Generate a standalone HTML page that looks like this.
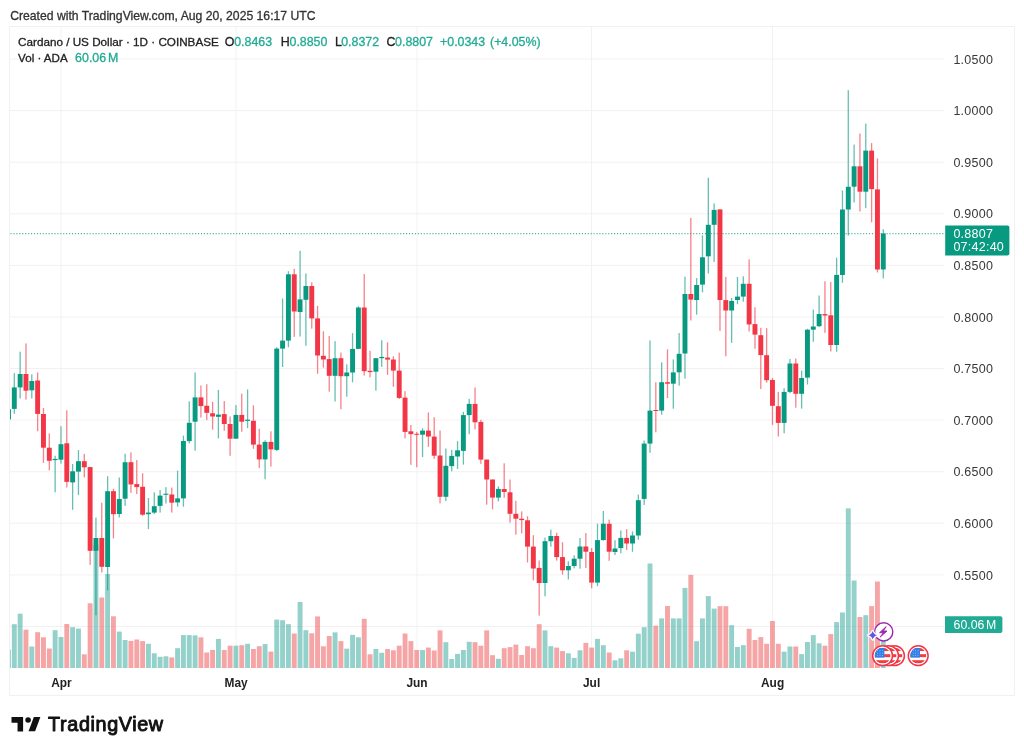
<!DOCTYPE html><html><head><meta charset="utf-8"><title>ADA</title><style>
html,body{margin:0;padding:0;background:#fff;}body{width:1024px;height:754px;overflow:hidden;position:relative;font-family:"Liberation Sans",sans-serif;}
svg{position:absolute;left:0;top:0;will-change:transform;} text.n{stroke-width:0.3px;}
</style></head><body>
<svg width="1024" height="754" viewBox="0 0 1024 754" font-family="Liberation Sans, sans-serif">
<defs><clipPath id="pc"><rect x="10.0" y="27.0" width="934.0" height="641.0"/></clipPath></defs>
<rect x="9.5" y="26.5" width="1005.0" height="669.0" fill="none" stroke="#f1f1f1" stroke-width="1"/>
<line x1="10" y1="59.0" x2="944.0" y2="59.0" stroke="#f4f0f2" stroke-width="1"/>
<line x1="10" y1="110.6" x2="944.0" y2="110.6" stroke="#f4f0f2" stroke-width="1"/>
<line x1="10" y1="162.2" x2="944.0" y2="162.2" stroke="#f4f0f2" stroke-width="1"/>
<line x1="10" y1="213.8" x2="944.0" y2="213.8" stroke="#f4f0f2" stroke-width="1"/>
<line x1="10" y1="265.4" x2="944.0" y2="265.4" stroke="#f4f0f2" stroke-width="1"/>
<line x1="10" y1="317.0" x2="944.0" y2="317.0" stroke="#f4f0f2" stroke-width="1"/>
<line x1="10" y1="368.5" x2="944.0" y2="368.5" stroke="#f4f0f2" stroke-width="1"/>
<line x1="10" y1="420.1" x2="944.0" y2="420.1" stroke="#f4f0f2" stroke-width="1"/>
<line x1="10" y1="471.7" x2="944.0" y2="471.7" stroke="#f4f0f2" stroke-width="1"/>
<line x1="10" y1="523.3" x2="944.0" y2="523.3" stroke="#f4f0f2" stroke-width="1"/>
<line x1="10" y1="574.9" x2="944.0" y2="574.9" stroke="#f4f0f2" stroke-width="1"/>
<line x1="10" y1="626.5" x2="944.0" y2="626.5" stroke="#f4f0f2" stroke-width="1"/>
<line x1="61.0" y1="27" x2="61.0" y2="668.0" stroke="#f4f0f2" stroke-width="1"/>
<line x1="236.1" y1="27" x2="236.1" y2="668.0" stroke="#f4f0f2" stroke-width="1"/>
<line x1="417.0" y1="27" x2="417.0" y2="668.0" stroke="#f4f0f2" stroke-width="1"/>
<line x1="591.6" y1="27" x2="591.6" y2="668.0" stroke="#f4f0f2" stroke-width="1"/>
<line x1="772.6" y1="27" x2="772.6" y2="668.0" stroke="#f4f0f2" stroke-width="1"/>
<g clip-path="url(#pc)">
<rect x="6.02" y="649.6" width="4.9" height="18.4" fill="rgba(39,163,149,0.5)"/>
<rect x="11.85" y="624.2" width="4.9" height="43.8" fill="rgba(39,163,149,0.5)"/>
<rect x="17.69" y="613.7" width="4.9" height="54.3" fill="rgba(39,163,149,0.5)"/>
<rect x="23.52" y="629.7" width="4.9" height="38.3" fill="rgba(235,75,77,0.5)"/>
<rect x="29.35" y="646.5" width="4.9" height="21.5" fill="rgba(39,163,149,0.5)"/>
<rect x="35.18" y="632.2" width="4.9" height="35.8" fill="rgba(235,75,77,0.5)"/>
<rect x="41.01" y="637.3" width="4.9" height="30.7" fill="rgba(235,75,77,0.5)"/>
<rect x="46.85" y="648.5" width="4.9" height="19.5" fill="rgba(235,75,77,0.5)"/>
<rect x="52.68" y="630.2" width="4.9" height="37.8" fill="rgba(39,163,149,0.5)"/>
<rect x="58.51" y="637.0" width="4.9" height="31.0" fill="rgba(39,163,149,0.5)"/>
<rect x="64.34" y="624.0" width="4.9" height="44.0" fill="rgba(235,75,77,0.5)"/>
<rect x="70.17" y="627.2" width="4.9" height="40.8" fill="rgba(39,163,149,0.5)"/>
<rect x="76.01" y="628.6" width="4.9" height="39.4" fill="rgba(39,163,149,0.5)"/>
<rect x="81.84" y="654.3" width="4.9" height="13.7" fill="rgba(235,75,77,0.5)"/>
<rect x="87.67" y="603.3" width="4.9" height="64.7" fill="rgba(235,75,77,0.5)"/>
<rect x="93.50" y="545.0" width="4.9" height="123.0" fill="rgba(39,163,149,0.5)"/>
<rect x="99.33" y="597.5" width="4.9" height="70.5" fill="rgba(235,75,77,0.5)"/>
<rect x="105.17" y="574.0" width="4.9" height="94.0" fill="rgba(39,163,149,0.5)"/>
<rect x="111.00" y="616.3" width="4.9" height="51.7" fill="rgba(235,75,77,0.5)"/>
<rect x="116.83" y="631.6" width="4.9" height="36.4" fill="rgba(39,163,149,0.5)"/>
<rect x="122.66" y="640.0" width="4.9" height="28.0" fill="rgba(39,163,149,0.5)"/>
<rect x="128.49" y="640.9" width="4.9" height="27.1" fill="rgba(235,75,77,0.5)"/>
<rect x="134.33" y="639.5" width="4.9" height="28.5" fill="rgba(235,75,77,0.5)"/>
<rect x="140.16" y="641.1" width="4.9" height="26.9" fill="rgba(235,75,77,0.5)"/>
<rect x="145.99" y="643.8" width="4.9" height="24.2" fill="rgba(39,163,149,0.5)"/>
<rect x="151.82" y="653.3" width="4.9" height="14.7" fill="rgba(39,163,149,0.5)"/>
<rect x="157.65" y="656.8" width="4.9" height="11.2" fill="rgba(39,163,149,0.5)"/>
<rect x="163.49" y="656.3" width="4.9" height="11.7" fill="rgba(39,163,149,0.5)"/>
<rect x="169.32" y="657.4" width="4.9" height="10.6" fill="rgba(235,75,77,0.5)"/>
<rect x="175.15" y="648.2" width="4.9" height="19.8" fill="rgba(39,163,149,0.5)"/>
<rect x="180.98" y="635.1" width="4.9" height="32.9" fill="rgba(39,163,149,0.5)"/>
<rect x="186.81" y="635.1" width="4.9" height="32.9" fill="rgba(39,163,149,0.5)"/>
<rect x="192.65" y="635.4" width="4.9" height="32.6" fill="rgba(39,163,149,0.5)"/>
<rect x="198.48" y="637.3" width="4.9" height="30.7" fill="rgba(235,75,77,0.5)"/>
<rect x="204.31" y="652.5" width="4.9" height="15.5" fill="rgba(235,75,77,0.5)"/>
<rect x="210.14" y="650.0" width="4.9" height="18.0" fill="rgba(235,75,77,0.5)"/>
<rect x="215.97" y="638.9" width="4.9" height="29.1" fill="rgba(39,163,149,0.5)"/>
<rect x="221.81" y="650.0" width="4.9" height="18.0" fill="rgba(235,75,77,0.5)"/>
<rect x="227.64" y="645.7" width="4.9" height="22.3" fill="rgba(235,75,77,0.5)"/>
<rect x="233.47" y="645.7" width="4.9" height="22.3" fill="rgba(39,163,149,0.5)"/>
<rect x="239.30" y="645.2" width="4.9" height="22.8" fill="rgba(235,75,77,0.5)"/>
<rect x="245.13" y="643.8" width="4.9" height="24.2" fill="rgba(39,163,149,0.5)"/>
<rect x="250.97" y="649.0" width="4.9" height="19.0" fill="rgba(235,75,77,0.5)"/>
<rect x="256.80" y="646.2" width="4.9" height="21.8" fill="rgba(235,75,77,0.5)"/>
<rect x="262.63" y="644.1" width="4.9" height="23.9" fill="rgba(39,163,149,0.5)"/>
<rect x="268.46" y="651.6" width="4.9" height="16.4" fill="rgba(235,75,77,0.5)"/>
<rect x="274.29" y="619.6" width="4.9" height="48.4" fill="rgba(39,163,149,0.5)"/>
<rect x="280.13" y="620.2" width="4.9" height="47.8" fill="rgba(39,163,149,0.5)"/>
<rect x="285.96" y="624.2" width="4.9" height="43.8" fill="rgba(39,163,149,0.5)"/>
<rect x="291.79" y="633.5" width="4.9" height="34.5" fill="rgba(235,75,77,0.5)"/>
<rect x="297.62" y="602.0" width="4.9" height="66.0" fill="rgba(39,163,149,0.5)"/>
<rect x="303.45" y="630.2" width="4.9" height="37.8" fill="rgba(39,163,149,0.5)"/>
<rect x="309.29" y="633.3" width="4.9" height="34.7" fill="rgba(235,75,77,0.5)"/>
<rect x="315.12" y="616.4" width="4.9" height="51.6" fill="rgba(235,75,77,0.5)"/>
<rect x="320.95" y="646.3" width="4.9" height="21.7" fill="rgba(235,75,77,0.5)"/>
<rect x="326.78" y="636.0" width="4.9" height="32.0" fill="rgba(235,75,77,0.5)"/>
<rect x="332.61" y="632.4" width="4.9" height="35.6" fill="rgba(39,163,149,0.5)"/>
<rect x="338.45" y="641.1" width="4.9" height="26.9" fill="rgba(235,75,77,0.5)"/>
<rect x="344.28" y="648.7" width="4.9" height="19.3" fill="rgba(39,163,149,0.5)"/>
<rect x="350.11" y="634.9" width="4.9" height="33.1" fill="rgba(39,163,149,0.5)"/>
<rect x="355.94" y="637.3" width="4.9" height="30.7" fill="rgba(39,163,149,0.5)"/>
<rect x="361.77" y="618.8" width="4.9" height="49.2" fill="rgba(235,75,77,0.5)"/>
<rect x="367.61" y="654.3" width="4.9" height="13.7" fill="rgba(235,75,77,0.5)"/>
<rect x="373.44" y="649.0" width="4.9" height="19.0" fill="rgba(39,163,149,0.5)"/>
<rect x="379.27" y="652.8" width="4.9" height="15.2" fill="rgba(39,163,149,0.5)"/>
<rect x="385.10" y="649.0" width="4.9" height="19.0" fill="rgba(235,75,77,0.5)"/>
<rect x="390.93" y="650.3" width="4.9" height="17.7" fill="rgba(235,75,77,0.5)"/>
<rect x="396.77" y="645.7" width="4.9" height="22.3" fill="rgba(235,75,77,0.5)"/>
<rect x="402.60" y="633.5" width="4.9" height="34.5" fill="rgba(235,75,77,0.5)"/>
<rect x="408.43" y="641.1" width="4.9" height="26.9" fill="rgba(235,75,77,0.5)"/>
<rect x="414.26" y="650.0" width="4.9" height="18.0" fill="rgba(235,75,77,0.5)"/>
<rect x="420.09" y="650.0" width="4.9" height="18.0" fill="rgba(39,163,149,0.5)"/>
<rect x="425.93" y="647.6" width="4.9" height="20.4" fill="rgba(235,75,77,0.5)"/>
<rect x="431.76" y="650.5" width="4.9" height="17.5" fill="rgba(235,75,77,0.5)"/>
<rect x="437.59" y="630.4" width="4.9" height="37.6" fill="rgba(235,75,77,0.5)"/>
<rect x="443.42" y="642.2" width="4.9" height="25.8" fill="rgba(39,163,149,0.5)"/>
<rect x="449.25" y="659.0" width="4.9" height="9.0" fill="rgba(39,163,149,0.5)"/>
<rect x="455.09" y="653.9" width="4.9" height="14.1" fill="rgba(39,163,149,0.5)"/>
<rect x="460.92" y="650.0" width="4.9" height="18.0" fill="rgba(39,163,149,0.5)"/>
<rect x="466.75" y="641.8" width="4.9" height="26.2" fill="rgba(39,163,149,0.5)"/>
<rect x="472.58" y="642.2" width="4.9" height="25.8" fill="rgba(235,75,77,0.5)"/>
<rect x="478.41" y="645.7" width="4.9" height="22.3" fill="rgba(235,75,77,0.5)"/>
<rect x="484.25" y="630.4" width="4.9" height="37.6" fill="rgba(235,75,77,0.5)"/>
<rect x="490.08" y="655.2" width="4.9" height="12.8" fill="rgba(235,75,77,0.5)"/>
<rect x="495.91" y="658.8" width="4.9" height="9.2" fill="rgba(39,163,149,0.5)"/>
<rect x="501.74" y="648.2" width="4.9" height="19.8" fill="rgba(235,75,77,0.5)"/>
<rect x="507.57" y="647.1" width="4.9" height="20.9" fill="rgba(235,75,77,0.5)"/>
<rect x="513.41" y="644.6" width="4.9" height="23.4" fill="rgba(235,75,77,0.5)"/>
<rect x="519.24" y="655.0" width="4.9" height="13.0" fill="rgba(235,75,77,0.5)"/>
<rect x="525.07" y="646.2" width="4.9" height="21.8" fill="rgba(235,75,77,0.5)"/>
<rect x="530.90" y="648.2" width="4.9" height="19.8" fill="rgba(235,75,77,0.5)"/>
<rect x="536.73" y="624.2" width="4.9" height="43.8" fill="rgba(235,75,77,0.5)"/>
<rect x="542.57" y="630.4" width="4.9" height="37.6" fill="rgba(39,163,149,0.5)"/>
<rect x="548.40" y="646.2" width="4.9" height="21.8" fill="rgba(39,163,149,0.5)"/>
<rect x="554.23" y="647.6" width="4.9" height="20.4" fill="rgba(235,75,77,0.5)"/>
<rect x="560.06" y="651.1" width="4.9" height="16.9" fill="rgba(235,75,77,0.5)"/>
<rect x="565.89" y="653.3" width="4.9" height="14.7" fill="rgba(39,163,149,0.5)"/>
<rect x="571.73" y="657.9" width="4.9" height="10.1" fill="rgba(39,163,149,0.5)"/>
<rect x="577.56" y="650.3" width="4.9" height="17.7" fill="rgba(39,163,149,0.5)"/>
<rect x="583.39" y="642.9" width="4.9" height="25.1" fill="rgba(235,75,77,0.5)"/>
<rect x="589.22" y="647.6" width="4.9" height="20.4" fill="rgba(235,75,77,0.5)"/>
<rect x="595.05" y="638.9" width="4.9" height="29.1" fill="rgba(39,163,149,0.5)"/>
<rect x="600.89" y="645.2" width="4.9" height="22.8" fill="rgba(39,163,149,0.5)"/>
<rect x="606.72" y="652.5" width="4.9" height="15.5" fill="rgba(235,75,77,0.5)"/>
<rect x="612.55" y="660.3" width="4.9" height="7.7" fill="rgba(39,163,149,0.5)"/>
<rect x="618.38" y="658.3" width="4.9" height="9.7" fill="rgba(39,163,149,0.5)"/>
<rect x="624.21" y="650.3" width="4.9" height="17.7" fill="rgba(235,75,77,0.5)"/>
<rect x="630.05" y="651.7" width="4.9" height="16.3" fill="rgba(39,163,149,0.5)"/>
<rect x="635.88" y="633.7" width="4.9" height="34.3" fill="rgba(39,163,149,0.5)"/>
<rect x="641.71" y="627.2" width="4.9" height="40.8" fill="rgba(39,163,149,0.5)"/>
<rect x="647.54" y="563.5" width="4.9" height="104.5" fill="rgba(39,163,149,0.5)"/>
<rect x="653.37" y="625.7" width="4.9" height="42.3" fill="rgba(235,75,77,0.5)"/>
<rect x="659.21" y="618.4" width="4.9" height="49.6" fill="rgba(39,163,149,0.5)"/>
<rect x="665.04" y="606.0" width="4.9" height="62.0" fill="rgba(235,75,77,0.5)"/>
<rect x="670.87" y="618.4" width="4.9" height="49.6" fill="rgba(39,163,149,0.5)"/>
<rect x="676.70" y="618.4" width="4.9" height="49.6" fill="rgba(39,163,149,0.5)"/>
<rect x="682.53" y="587.9" width="4.9" height="80.1" fill="rgba(39,163,149,0.5)"/>
<rect x="688.37" y="574.9" width="4.9" height="93.1" fill="rgba(235,75,77,0.5)"/>
<rect x="694.20" y="641.2" width="4.9" height="26.8" fill="rgba(39,163,149,0.5)"/>
<rect x="700.03" y="618.4" width="4.9" height="49.6" fill="rgba(39,163,149,0.5)"/>
<rect x="705.86" y="596.1" width="4.9" height="71.9" fill="rgba(39,163,149,0.5)"/>
<rect x="711.69" y="608.6" width="4.9" height="59.4" fill="rgba(39,163,149,0.5)"/>
<rect x="717.53" y="606.2" width="4.9" height="61.8" fill="rgba(235,75,77,0.5)"/>
<rect x="723.36" y="606.2" width="4.9" height="61.8" fill="rgba(235,75,77,0.5)"/>
<rect x="729.19" y="625.2" width="4.9" height="42.8" fill="rgba(39,163,149,0.5)"/>
<rect x="735.02" y="647.0" width="4.9" height="21.0" fill="rgba(39,163,149,0.5)"/>
<rect x="740.85" y="645.2" width="4.9" height="22.8" fill="rgba(39,163,149,0.5)"/>
<rect x="746.69" y="628.8" width="4.9" height="39.2" fill="rgba(235,75,77,0.5)"/>
<rect x="752.52" y="640.0" width="4.9" height="28.0" fill="rgba(235,75,77,0.5)"/>
<rect x="758.35" y="637.1" width="4.9" height="30.9" fill="rgba(235,75,77,0.5)"/>
<rect x="764.18" y="643.8" width="4.9" height="24.2" fill="rgba(235,75,77,0.5)"/>
<rect x="770.01" y="621.0" width="4.9" height="47.0" fill="rgba(235,75,77,0.5)"/>
<rect x="775.85" y="643.8" width="4.9" height="24.2" fill="rgba(235,75,77,0.5)"/>
<rect x="781.68" y="651.6" width="4.9" height="16.4" fill="rgba(39,163,149,0.5)"/>
<rect x="787.51" y="646.5" width="4.9" height="21.5" fill="rgba(39,163,149,0.5)"/>
<rect x="793.34" y="646.5" width="4.9" height="21.5" fill="rgba(235,75,77,0.5)"/>
<rect x="799.17" y="654.1" width="4.9" height="13.9" fill="rgba(39,163,149,0.5)"/>
<rect x="805.01" y="642.0" width="4.9" height="26.0" fill="rgba(39,163,149,0.5)"/>
<rect x="810.84" y="635.1" width="4.9" height="32.9" fill="rgba(39,163,149,0.5)"/>
<rect x="816.67" y="643.3" width="4.9" height="24.7" fill="rgba(39,163,149,0.5)"/>
<rect x="822.50" y="645.7" width="4.9" height="22.3" fill="rgba(235,75,77,0.5)"/>
<rect x="828.33" y="634.1" width="4.9" height="33.9" fill="rgba(235,75,77,0.5)"/>
<rect x="834.17" y="622.1" width="4.9" height="45.9" fill="rgba(39,163,149,0.5)"/>
<rect x="840.00" y="612.5" width="4.9" height="55.5" fill="rgba(39,163,149,0.5)"/>
<rect x="845.83" y="508.4" width="4.9" height="159.6" fill="rgba(39,163,149,0.5)"/>
<rect x="851.66" y="580.5" width="4.9" height="87.5" fill="rgba(39,163,149,0.5)"/>
<rect x="857.49" y="617.0" width="4.9" height="51.0" fill="rgba(235,75,77,0.5)"/>
<rect x="863.33" y="615.2" width="4.9" height="52.8" fill="rgba(39,163,149,0.5)"/>
<rect x="869.16" y="606.1" width="4.9" height="61.9" fill="rgba(235,75,77,0.5)"/>
<rect x="874.99" y="581.5" width="4.9" height="86.5" fill="rgba(235,75,77,0.5)"/>
<rect x="880.82" y="624.5" width="4.9" height="43.5" fill="rgba(39,163,149,0.5)"/>
<line x1="10.5" y1="233.6" x2="943.5" y2="233.6" stroke="#089981" stroke-opacity="0.75" stroke-width="1.1" stroke-dasharray="1.1 1.83"/>
<rect x="7.82" y="407.0" width="1.3" height="14.0" fill="#089981" fill-opacity="0.62"/>
<rect x="6.02" y="409.3" width="4.9" height="10.2" fill="#089981"/>
<rect x="13.65" y="373.1" width="1.3" height="40.8" fill="#089981" fill-opacity="0.62"/>
<rect x="11.85" y="387.4" width="4.9" height="21.5" fill="#089981"/>
<rect x="19.49" y="351.7" width="1.3" height="46.8" fill="#089981" fill-opacity="0.62"/>
<rect x="17.69" y="374.0" width="4.9" height="13.4" fill="#089981"/>
<rect x="25.32" y="343.4" width="1.3" height="56.2" fill="#f23645" fill-opacity="0.62"/>
<rect x="23.52" y="374.0" width="4.9" height="16.7" fill="#f23645"/>
<rect x="31.15" y="374.4" width="1.3" height="24.1" fill="#089981" fill-opacity="0.62"/>
<rect x="29.35" y="381.0" width="4.9" height="9.3" fill="#089981"/>
<rect x="36.98" y="372.5" width="1.3" height="58.7" fill="#f23645" fill-opacity="0.62"/>
<rect x="35.18" y="380.5" width="4.9" height="33.4" fill="#f23645"/>
<rect x="42.81" y="408.0" width="1.3" height="54.8" fill="#f23645" fill-opacity="0.62"/>
<rect x="41.01" y="414.0" width="4.9" height="33.7" fill="#f23645"/>
<rect x="48.65" y="433.4" width="1.3" height="36.9" fill="#f23645" fill-opacity="0.62"/>
<rect x="46.85" y="447.7" width="4.9" height="13.1" fill="#f23645"/>
<rect x="54.48" y="455.7" width="1.3" height="36.6" fill="#089981" fill-opacity="0.62"/>
<rect x="52.68" y="458.9" width="4.9" height="1.2" fill="#089981"/>
<rect x="60.31" y="426.2" width="1.3" height="37.4" fill="#089981" fill-opacity="0.62"/>
<rect x="58.51" y="444.2" width="4.9" height="15.5" fill="#089981"/>
<rect x="66.14" y="410.3" width="1.3" height="77.2" fill="#f23645" fill-opacity="0.62"/>
<rect x="64.34" y="443.3" width="4.9" height="38.6" fill="#f23645"/>
<rect x="71.97" y="464.0" width="1.3" height="45.8" fill="#089981" fill-opacity="0.62"/>
<rect x="70.17" y="471.3" width="4.9" height="11.1" fill="#089981"/>
<rect x="77.81" y="450.1" width="1.3" height="45.0" fill="#089981" fill-opacity="0.62"/>
<rect x="76.01" y="461.2" width="4.9" height="10.4" fill="#089981"/>
<rect x="83.64" y="453.8" width="1.3" height="23.5" fill="#f23645" fill-opacity="0.62"/>
<rect x="81.84" y="461.2" width="4.9" height="6.1" fill="#f23645"/>
<rect x="89.47" y="466.8" width="1.3" height="98.1" fill="#f23645" fill-opacity="0.62"/>
<rect x="87.67" y="467.1" width="4.9" height="83.7" fill="#f23645"/>
<rect x="95.30" y="517.6" width="1.3" height="97.7" fill="#089981" fill-opacity="0.62"/>
<rect x="93.50" y="538.0" width="4.9" height="12.8" fill="#089981"/>
<rect x="101.13" y="502.7" width="1.3" height="69.7" fill="#f23645" fill-opacity="0.62"/>
<rect x="99.33" y="538.0" width="4.9" height="28.8" fill="#f23645"/>
<rect x="106.97" y="476.3" width="1.3" height="114.1" fill="#089981" fill-opacity="0.62"/>
<rect x="105.17" y="491.2" width="4.9" height="75.8" fill="#089981"/>
<rect x="112.80" y="488.8" width="1.3" height="49.6" fill="#f23645" fill-opacity="0.62"/>
<rect x="111.00" y="491.2" width="4.9" height="23.0" fill="#f23645"/>
<rect x="118.63" y="477.5" width="1.3" height="40.0" fill="#089981" fill-opacity="0.62"/>
<rect x="116.83" y="499.0" width="4.9" height="15.0" fill="#089981"/>
<rect x="124.46" y="453.7" width="1.3" height="52.2" fill="#089981" fill-opacity="0.62"/>
<rect x="122.66" y="462.2" width="4.9" height="36.5" fill="#089981"/>
<rect x="130.29" y="452.3" width="1.3" height="40.6" fill="#f23645" fill-opacity="0.62"/>
<rect x="128.49" y="462.2" width="4.9" height="22.2" fill="#f23645"/>
<rect x="136.13" y="460.1" width="1.3" height="33.9" fill="#f23645" fill-opacity="0.62"/>
<rect x="134.33" y="484.1" width="4.9" height="3.0" fill="#f23645"/>
<rect x="141.96" y="473.3" width="1.3" height="42.5" fill="#f23645" fill-opacity="0.62"/>
<rect x="140.16" y="486.8" width="4.9" height="27.9" fill="#f23645"/>
<rect x="147.79" y="498.0" width="1.3" height="31.0" fill="#089981" fill-opacity="0.62"/>
<rect x="145.99" y="512.6" width="4.9" height="1.6" fill="#089981"/>
<rect x="153.62" y="492.4" width="1.3" height="21.5" fill="#089981" fill-opacity="0.62"/>
<rect x="151.82" y="506.2" width="4.9" height="6.4" fill="#089981"/>
<rect x="159.45" y="490.0" width="1.3" height="22.6" fill="#089981" fill-opacity="0.62"/>
<rect x="157.65" y="495.6" width="4.9" height="10.3" fill="#089981"/>
<rect x="165.29" y="487.1" width="1.3" height="16.4" fill="#089981" fill-opacity="0.62"/>
<rect x="163.49" y="493.7" width="4.9" height="1.1" fill="#089981"/>
<rect x="171.12" y="487.6" width="1.3" height="25.0" fill="#f23645" fill-opacity="0.62"/>
<rect x="169.32" y="494.5" width="4.9" height="8.2" fill="#f23645"/>
<rect x="176.95" y="470.6" width="1.3" height="36.1" fill="#089981" fill-opacity="0.62"/>
<rect x="175.15" y="498.4" width="4.9" height="4.0" fill="#089981"/>
<rect x="182.78" y="435.6" width="1.3" height="71.1" fill="#089981" fill-opacity="0.62"/>
<rect x="180.98" y="441.0" width="4.9" height="57.4" fill="#089981"/>
<rect x="188.61" y="401.4" width="1.3" height="42.1" fill="#089981" fill-opacity="0.62"/>
<rect x="186.81" y="422.8" width="4.9" height="18.3" fill="#089981"/>
<rect x="194.45" y="372.4" width="1.3" height="78.3" fill="#089981" fill-opacity="0.62"/>
<rect x="192.65" y="397.4" width="4.9" height="24.3" fill="#089981"/>
<rect x="200.28" y="385.5" width="1.3" height="32.1" fill="#f23645" fill-opacity="0.62"/>
<rect x="198.48" y="397.4" width="4.9" height="8.7" fill="#f23645"/>
<rect x="206.11" y="384.2" width="1.3" height="35.9" fill="#f23645" fill-opacity="0.62"/>
<rect x="204.31" y="405.8" width="4.9" height="7.0" fill="#f23645"/>
<rect x="211.94" y="401.7" width="1.3" height="28.0" fill="#f23645" fill-opacity="0.62"/>
<rect x="210.14" y="413.3" width="4.9" height="3.2" fill="#f23645"/>
<rect x="217.77" y="389.9" width="1.3" height="48.4" fill="#089981" fill-opacity="0.62"/>
<rect x="215.97" y="414.6" width="4.9" height="2.2" fill="#089981"/>
<rect x="223.61" y="401.0" width="1.3" height="29.8" fill="#f23645" fill-opacity="0.62"/>
<rect x="221.81" y="414.1" width="4.9" height="9.9" fill="#f23645"/>
<rect x="229.44" y="416.5" width="1.3" height="39.3" fill="#f23645" fill-opacity="0.62"/>
<rect x="227.64" y="424.0" width="4.9" height="14.7" fill="#f23645"/>
<rect x="235.27" y="405.0" width="1.3" height="33.7" fill="#089981" fill-opacity="0.62"/>
<rect x="233.47" y="414.9" width="4.9" height="23.8" fill="#089981"/>
<rect x="241.10" y="393.7" width="1.3" height="38.1" fill="#f23645" fill-opacity="0.62"/>
<rect x="239.30" y="414.9" width="4.9" height="6.8" fill="#f23645"/>
<rect x="246.93" y="389.4" width="1.3" height="38.7" fill="#089981" fill-opacity="0.62"/>
<rect x="245.13" y="419.7" width="4.9" height="1.2" fill="#089981"/>
<rect x="252.77" y="405.3" width="1.3" height="43.5" fill="#f23645" fill-opacity="0.62"/>
<rect x="250.97" y="420.8" width="4.9" height="23.8" fill="#f23645"/>
<rect x="258.60" y="428.7" width="1.3" height="39.2" fill="#f23645" fill-opacity="0.62"/>
<rect x="256.80" y="444.6" width="4.9" height="14.8" fill="#f23645"/>
<rect x="264.43" y="440.3" width="1.3" height="39.0" fill="#089981" fill-opacity="0.62"/>
<rect x="262.63" y="441.9" width="4.9" height="17.5" fill="#089981"/>
<rect x="270.26" y="431.3" width="1.3" height="35.3" fill="#f23645" fill-opacity="0.62"/>
<rect x="268.46" y="441.9" width="4.9" height="7.5" fill="#f23645"/>
<rect x="276.09" y="347.3" width="1.3" height="103.7" fill="#089981" fill-opacity="0.62"/>
<rect x="274.29" y="348.6" width="4.9" height="101.3" fill="#089981"/>
<rect x="281.93" y="298.5" width="1.3" height="68.5" fill="#089981" fill-opacity="0.62"/>
<rect x="280.13" y="340.6" width="4.9" height="8.0" fill="#089981"/>
<rect x="287.76" y="271.2" width="1.3" height="76.1" fill="#089981" fill-opacity="0.62"/>
<rect x="285.96" y="274.3" width="4.9" height="66.3" fill="#089981"/>
<rect x="293.59" y="268.8" width="1.3" height="68.1" fill="#f23645" fill-opacity="0.62"/>
<rect x="291.79" y="274.3" width="4.9" height="37.2" fill="#f23645"/>
<rect x="299.42" y="250.8" width="1.3" height="85.7" fill="#089981" fill-opacity="0.62"/>
<rect x="297.62" y="299.4" width="4.9" height="12.6" fill="#089981"/>
<rect x="305.25" y="273.4" width="1.3" height="72.4" fill="#089981" fill-opacity="0.62"/>
<rect x="303.45" y="286.0" width="4.9" height="13.8" fill="#089981"/>
<rect x="311.09" y="282.3" width="1.3" height="46.4" fill="#f23645" fill-opacity="0.62"/>
<rect x="309.29" y="286.0" width="4.9" height="32.4" fill="#f23645"/>
<rect x="316.92" y="305.9" width="1.3" height="67.8" fill="#f23645" fill-opacity="0.62"/>
<rect x="315.12" y="318.4" width="4.9" height="37.1" fill="#f23645"/>
<rect x="322.75" y="331.3" width="1.3" height="36.2" fill="#f23645" fill-opacity="0.62"/>
<rect x="320.95" y="355.8" width="4.9" height="3.7" fill="#f23645"/>
<rect x="328.58" y="335.9" width="1.3" height="55.7" fill="#f23645" fill-opacity="0.62"/>
<rect x="326.78" y="359.1" width="4.9" height="16.7" fill="#f23645"/>
<rect x="334.41" y="341.1" width="1.3" height="60.4" fill="#089981" fill-opacity="0.62"/>
<rect x="332.61" y="358.2" width="4.9" height="17.6" fill="#089981"/>
<rect x="340.25" y="352.6" width="1.3" height="56.6" fill="#f23645" fill-opacity="0.62"/>
<rect x="338.45" y="358.2" width="4.9" height="18.0" fill="#f23645"/>
<rect x="346.08" y="364.3" width="1.3" height="32.3" fill="#089981" fill-opacity="0.62"/>
<rect x="344.28" y="372.5" width="4.9" height="3.7" fill="#089981"/>
<rect x="351.91" y="333.1" width="1.3" height="49.2" fill="#089981" fill-opacity="0.62"/>
<rect x="350.11" y="348.9" width="4.9" height="23.6" fill="#089981"/>
<rect x="357.74" y="306.2" width="1.3" height="42.7" fill="#089981" fill-opacity="0.62"/>
<rect x="355.94" y="307.5" width="4.9" height="41.4" fill="#089981"/>
<rect x="363.57" y="274.1" width="1.3" height="101.4" fill="#f23645" fill-opacity="0.62"/>
<rect x="361.77" y="307.5" width="4.9" height="63.7" fill="#f23645"/>
<rect x="369.41" y="350.8" width="1.3" height="26.5" fill="#f23645" fill-opacity="0.62"/>
<rect x="367.61" y="370.8" width="4.9" height="1.3" fill="#f23645"/>
<rect x="375.24" y="358.2" width="1.3" height="32.5" fill="#089981" fill-opacity="0.62"/>
<rect x="373.44" y="358.2" width="4.9" height="13.5" fill="#089981"/>
<rect x="381.07" y="340.2" width="1.3" height="26.7" fill="#089981" fill-opacity="0.62"/>
<rect x="379.27" y="356.9" width="4.9" height="1.3" fill="#089981"/>
<rect x="386.90" y="342.3" width="1.3" height="32.6" fill="#f23645" fill-opacity="0.62"/>
<rect x="385.10" y="357.6" width="4.9" height="2.0" fill="#f23645"/>
<rect x="392.73" y="356.3" width="1.3" height="30.5" fill="#f23645" fill-opacity="0.62"/>
<rect x="390.93" y="359.5" width="4.9" height="11.1" fill="#f23645"/>
<rect x="398.57" y="352.6" width="1.3" height="46.4" fill="#f23645" fill-opacity="0.62"/>
<rect x="396.77" y="370.6" width="4.9" height="27.3" fill="#f23645"/>
<rect x="404.40" y="391.1" width="1.3" height="47.3" fill="#f23645" fill-opacity="0.62"/>
<rect x="402.60" y="397.6" width="4.9" height="34.3" fill="#f23645"/>
<rect x="410.23" y="425.0" width="1.3" height="39.8" fill="#f23645" fill-opacity="0.62"/>
<rect x="408.43" y="431.3" width="4.9" height="2.8" fill="#f23645"/>
<rect x="416.06" y="431.9" width="1.3" height="35.3" fill="#f23645" fill-opacity="0.62"/>
<rect x="414.26" y="433.8" width="4.9" height="1.0" fill="#f23645"/>
<rect x="421.89" y="428.2" width="1.3" height="28.8" fill="#089981" fill-opacity="0.62"/>
<rect x="420.09" y="430.6" width="4.9" height="4.1" fill="#089981"/>
<rect x="427.73" y="412.4" width="1.3" height="34.4" fill="#f23645" fill-opacity="0.62"/>
<rect x="425.93" y="430.6" width="4.9" height="5.9" fill="#f23645"/>
<rect x="433.56" y="417.3" width="1.3" height="41.5" fill="#f23645" fill-opacity="0.62"/>
<rect x="431.76" y="436.6" width="4.9" height="19.1" fill="#f23645"/>
<rect x="439.39" y="430.5" width="1.3" height="72.8" fill="#f23645" fill-opacity="0.62"/>
<rect x="437.59" y="455.5" width="4.9" height="41.3" fill="#f23645"/>
<rect x="445.22" y="448.5" width="1.3" height="52.5" fill="#089981" fill-opacity="0.62"/>
<rect x="443.42" y="465.8" width="4.9" height="31.0" fill="#089981"/>
<rect x="451.05" y="449.8" width="1.3" height="21.5" fill="#089981" fill-opacity="0.62"/>
<rect x="449.25" y="455.9" width="4.9" height="10.2" fill="#089981"/>
<rect x="456.89" y="441.1" width="1.3" height="27.8" fill="#089981" fill-opacity="0.62"/>
<rect x="455.09" y="450.3" width="4.9" height="6.2" fill="#089981"/>
<rect x="462.72" y="411.9" width="1.3" height="52.7" fill="#089981" fill-opacity="0.62"/>
<rect x="460.92" y="415.1" width="4.9" height="35.8" fill="#089981"/>
<rect x="468.55" y="398.9" width="1.3" height="35.3" fill="#089981" fill-opacity="0.62"/>
<rect x="466.75" y="403.9" width="4.9" height="11.2" fill="#089981"/>
<rect x="474.38" y="387.5" width="1.3" height="41.9" fill="#f23645" fill-opacity="0.62"/>
<rect x="472.58" y="403.9" width="4.9" height="18.4" fill="#f23645"/>
<rect x="480.21" y="419.7" width="1.3" height="44.2" fill="#f23645" fill-opacity="0.62"/>
<rect x="478.41" y="421.9" width="4.9" height="37.7" fill="#f23645"/>
<rect x="486.05" y="459.6" width="1.3" height="45.1" fill="#f23645" fill-opacity="0.62"/>
<rect x="484.25" y="459.6" width="4.9" height="19.9" fill="#f23645"/>
<rect x="491.88" y="479.5" width="1.3" height="29.8" fill="#f23645" fill-opacity="0.62"/>
<rect x="490.08" y="479.5" width="4.9" height="18.1" fill="#f23645"/>
<rect x="497.71" y="486.3" width="1.3" height="15.1" fill="#089981" fill-opacity="0.62"/>
<rect x="495.91" y="488.9" width="4.9" height="8.7" fill="#089981"/>
<rect x="503.54" y="463.3" width="1.3" height="34.5" fill="#f23645" fill-opacity="0.62"/>
<rect x="501.74" y="489.0" width="4.9" height="3.0" fill="#f23645"/>
<rect x="509.37" y="479.5" width="1.3" height="43.2" fill="#f23645" fill-opacity="0.62"/>
<rect x="507.57" y="492.3" width="4.9" height="21.5" fill="#f23645"/>
<rect x="515.21" y="500.8" width="1.3" height="33.9" fill="#f23645" fill-opacity="0.62"/>
<rect x="513.41" y="513.8" width="4.9" height="4.9" fill="#f23645"/>
<rect x="521.04" y="511.4" width="1.3" height="21.9" fill="#f23645" fill-opacity="0.62"/>
<rect x="519.24" y="518.7" width="4.9" height="1.4" fill="#f23645"/>
<rect x="526.87" y="516.2" width="1.3" height="46.3" fill="#f23645" fill-opacity="0.62"/>
<rect x="525.07" y="520.3" width="4.9" height="26.3" fill="#f23645"/>
<rect x="532.70" y="535.2" width="1.3" height="45.2" fill="#f23645" fill-opacity="0.62"/>
<rect x="530.90" y="546.6" width="4.9" height="21.9" fill="#f23645"/>
<rect x="538.53" y="560.5" width="1.3" height="55.1" fill="#f23645" fill-opacity="0.62"/>
<rect x="536.73" y="567.9" width="4.9" height="15.1" fill="#f23645"/>
<rect x="544.37" y="537.6" width="1.3" height="58.7" fill="#089981" fill-opacity="0.62"/>
<rect x="542.57" y="541.2" width="4.9" height="41.8" fill="#089981"/>
<rect x="550.20" y="529.7" width="1.3" height="16.9" fill="#089981" fill-opacity="0.62"/>
<rect x="548.40" y="536.0" width="4.9" height="5.2" fill="#089981"/>
<rect x="556.03" y="532.7" width="1.3" height="27.9" fill="#f23645" fill-opacity="0.62"/>
<rect x="554.23" y="536.0" width="4.9" height="21.1" fill="#f23645"/>
<rect x="561.86" y="542.2" width="1.3" height="32.4" fill="#f23645" fill-opacity="0.62"/>
<rect x="560.06" y="557.1" width="4.9" height="13.2" fill="#f23645"/>
<rect x="567.69" y="561.3" width="1.3" height="18.1" fill="#089981" fill-opacity="0.62"/>
<rect x="565.89" y="566.0" width="4.9" height="4.3" fill="#089981"/>
<rect x="573.53" y="555.2" width="1.3" height="13.1" fill="#089981" fill-opacity="0.62"/>
<rect x="571.73" y="558.7" width="4.9" height="7.3" fill="#089981"/>
<rect x="579.36" y="538.0" width="1.3" height="30.7" fill="#089981" fill-opacity="0.62"/>
<rect x="577.56" y="546.5" width="4.9" height="12.2" fill="#089981"/>
<rect x="585.19" y="533.0" width="1.3" height="35.0" fill="#f23645" fill-opacity="0.62"/>
<rect x="583.39" y="546.5" width="4.9" height="5.2" fill="#f23645"/>
<rect x="591.02" y="548.1" width="1.3" height="40.2" fill="#f23645" fill-opacity="0.62"/>
<rect x="589.22" y="552.0" width="4.9" height="30.6" fill="#f23645"/>
<rect x="596.85" y="523.7" width="1.3" height="62.5" fill="#089981" fill-opacity="0.62"/>
<rect x="595.05" y="540.1" width="4.9" height="42.5" fill="#089981"/>
<rect x="602.69" y="511.0" width="1.3" height="29.6" fill="#089981" fill-opacity="0.62"/>
<rect x="600.89" y="523.7" width="4.9" height="16.4" fill="#089981"/>
<rect x="608.52" y="519.6" width="1.3" height="41.2" fill="#f23645" fill-opacity="0.62"/>
<rect x="606.72" y="523.8" width="4.9" height="27.9" fill="#f23645"/>
<rect x="614.35" y="540.2" width="1.3" height="14.8" fill="#089981" fill-opacity="0.62"/>
<rect x="612.55" y="548.5" width="4.9" height="3.5" fill="#089981"/>
<rect x="620.18" y="530.5" width="1.3" height="22.8" fill="#089981" fill-opacity="0.62"/>
<rect x="618.38" y="537.9" width="4.9" height="10.2" fill="#089981"/>
<rect x="626.01" y="529.2" width="1.3" height="20.8" fill="#f23645" fill-opacity="0.62"/>
<rect x="624.21" y="537.9" width="4.9" height="5.6" fill="#f23645"/>
<rect x="631.85" y="531.4" width="1.3" height="20.4" fill="#089981" fill-opacity="0.62"/>
<rect x="630.05" y="535.5" width="4.9" height="8.0" fill="#089981"/>
<rect x="637.68" y="494.6" width="1.3" height="45.2" fill="#089981" fill-opacity="0.62"/>
<rect x="635.88" y="500.2" width="4.9" height="35.3" fill="#089981"/>
<rect x="643.51" y="440.5" width="1.3" height="64.5" fill="#089981" fill-opacity="0.62"/>
<rect x="641.71" y="443.6" width="4.9" height="55.3" fill="#089981"/>
<rect x="649.34" y="340.4" width="1.3" height="112.4" fill="#089981" fill-opacity="0.62"/>
<rect x="647.54" y="410.6" width="4.9" height="33.0" fill="#089981"/>
<rect x="655.17" y="382.2" width="1.3" height="50.1" fill="#f23645" fill-opacity="0.62"/>
<rect x="653.37" y="410.0" width="4.9" height="1.0" fill="#f23645"/>
<rect x="661.01" y="362.3" width="1.3" height="52.4" fill="#089981" fill-opacity="0.62"/>
<rect x="659.21" y="382.2" width="4.9" height="28.4" fill="#089981"/>
<rect x="666.84" y="349.3" width="1.3" height="48.7" fill="#f23645" fill-opacity="0.62"/>
<rect x="665.04" y="382.2" width="4.9" height="1.5" fill="#f23645"/>
<rect x="672.67" y="359.4" width="1.3" height="49.3" fill="#089981" fill-opacity="0.62"/>
<rect x="670.87" y="372.4" width="4.9" height="11.3" fill="#089981"/>
<rect x="678.50" y="333.0" width="1.3" height="52.7" fill="#089981" fill-opacity="0.62"/>
<rect x="676.70" y="353.8" width="4.9" height="18.5" fill="#089981"/>
<rect x="684.33" y="276.6" width="1.3" height="102.0" fill="#089981" fill-opacity="0.62"/>
<rect x="682.53" y="294.0" width="4.9" height="59.5" fill="#089981"/>
<rect x="690.17" y="217.9" width="1.3" height="102.6" fill="#f23645" fill-opacity="0.62"/>
<rect x="688.37" y="294.0" width="4.9" height="5.6" fill="#f23645"/>
<rect x="696.00" y="278.1" width="1.3" height="36.5" fill="#089981" fill-opacity="0.62"/>
<rect x="694.20" y="285.0" width="4.9" height="15.0" fill="#089981"/>
<rect x="701.83" y="235.4" width="1.3" height="56.9" fill="#089981" fill-opacity="0.62"/>
<rect x="700.03" y="257.3" width="4.9" height="27.3" fill="#089981"/>
<rect x="707.66" y="177.8" width="1.3" height="95.7" fill="#089981" fill-opacity="0.62"/>
<rect x="705.86" y="224.8" width="4.9" height="31.5" fill="#089981"/>
<rect x="713.49" y="203.4" width="1.3" height="58.5" fill="#089981" fill-opacity="0.62"/>
<rect x="711.69" y="209.9" width="4.9" height="14.9" fill="#089981"/>
<rect x="719.33" y="209.4" width="1.3" height="121.5" fill="#f23645" fill-opacity="0.62"/>
<rect x="717.53" y="209.4" width="4.9" height="90.6" fill="#f23645"/>
<rect x="725.16" y="276.9" width="1.3" height="79.4" fill="#f23645" fill-opacity="0.62"/>
<rect x="723.36" y="300.1" width="4.9" height="10.4" fill="#f23645"/>
<rect x="730.99" y="298.0" width="1.3" height="44.8" fill="#089981" fill-opacity="0.62"/>
<rect x="729.19" y="301.0" width="4.9" height="9.5" fill="#089981"/>
<rect x="736.82" y="277.0" width="1.3" height="27.2" fill="#089981" fill-opacity="0.62"/>
<rect x="735.02" y="296.6" width="4.9" height="3.4" fill="#089981"/>
<rect x="742.65" y="276.3" width="1.3" height="25.4" fill="#089981" fill-opacity="0.62"/>
<rect x="740.85" y="283.8" width="4.9" height="12.8" fill="#089981"/>
<rect x="748.49" y="259.4" width="1.3" height="72.1" fill="#f23645" fill-opacity="0.62"/>
<rect x="746.69" y="283.8" width="4.9" height="40.6" fill="#f23645"/>
<rect x="754.32" y="307.3" width="1.3" height="41.4" fill="#f23645" fill-opacity="0.62"/>
<rect x="752.52" y="324.1" width="4.9" height="10.5" fill="#f23645"/>
<rect x="760.15" y="327.8" width="1.3" height="61.2" fill="#f23645" fill-opacity="0.62"/>
<rect x="758.35" y="335.2" width="4.9" height="19.9" fill="#f23645"/>
<rect x="765.98" y="328.1" width="1.3" height="54.6" fill="#f23645" fill-opacity="0.62"/>
<rect x="764.18" y="355.2" width="4.9" height="25.0" fill="#f23645"/>
<rect x="771.81" y="378.0" width="1.3" height="46.8" fill="#f23645" fill-opacity="0.62"/>
<rect x="770.01" y="380.0" width="4.9" height="25.8" fill="#f23645"/>
<rect x="777.65" y="391.9" width="1.3" height="44.6" fill="#f23645" fill-opacity="0.62"/>
<rect x="775.85" y="406.2" width="4.9" height="16.7" fill="#f23645"/>
<rect x="783.48" y="388.2" width="1.3" height="45.1" fill="#089981" fill-opacity="0.62"/>
<rect x="781.68" y="391.9" width="4.9" height="31.0" fill="#089981"/>
<rect x="789.31" y="359.0" width="1.3" height="34.2" fill="#089981" fill-opacity="0.62"/>
<rect x="787.51" y="363.5" width="4.9" height="28.4" fill="#089981"/>
<rect x="795.14" y="358.6" width="1.3" height="49.1" fill="#f23645" fill-opacity="0.62"/>
<rect x="793.34" y="363.5" width="4.9" height="30.3" fill="#f23645"/>
<rect x="800.97" y="370.6" width="1.3" height="38.0" fill="#089981" fill-opacity="0.62"/>
<rect x="799.17" y="378.0" width="4.9" height="15.8" fill="#089981"/>
<rect x="806.81" y="328.8" width="1.3" height="55.7" fill="#089981" fill-opacity="0.62"/>
<rect x="805.01" y="329.7" width="4.9" height="47.9" fill="#089981"/>
<rect x="812.64" y="309.5" width="1.3" height="32.3" fill="#089981" fill-opacity="0.62"/>
<rect x="810.84" y="326.5" width="4.9" height="3.2" fill="#089981"/>
<rect x="818.47" y="295.5" width="1.3" height="31.4" fill="#089981" fill-opacity="0.62"/>
<rect x="816.67" y="314.0" width="4.9" height="12.2" fill="#089981"/>
<rect x="824.30" y="281.3" width="1.3" height="51.6" fill="#f23645" fill-opacity="0.62"/>
<rect x="822.50" y="314.1" width="4.9" height="1.4" fill="#f23645"/>
<rect x="830.13" y="281.9" width="1.3" height="69.6" fill="#f23645" fill-opacity="0.62"/>
<rect x="828.33" y="315.3" width="4.9" height="29.7" fill="#f23645"/>
<rect x="835.97" y="257.7" width="1.3" height="94.0" fill="#089981" fill-opacity="0.62"/>
<rect x="834.17" y="274.9" width="4.9" height="70.1" fill="#089981"/>
<rect x="841.80" y="190.5" width="1.3" height="92.3" fill="#089981" fill-opacity="0.62"/>
<rect x="840.00" y="209.5" width="4.9" height="65.5" fill="#089981"/>
<rect x="847.63" y="90.2" width="1.3" height="145.4" fill="#089981" fill-opacity="0.62"/>
<rect x="845.83" y="186.8" width="4.9" height="22.7" fill="#089981"/>
<rect x="853.46" y="144.6" width="1.3" height="57.8" fill="#089981" fill-opacity="0.62"/>
<rect x="851.66" y="166.3" width="4.9" height="20.4" fill="#089981"/>
<rect x="859.29" y="133.5" width="1.3" height="78.0" fill="#f23645" fill-opacity="0.62"/>
<rect x="857.49" y="166.3" width="4.9" height="25.4" fill="#f23645"/>
<rect x="865.13" y="123.6" width="1.3" height="84.6" fill="#089981" fill-opacity="0.62"/>
<rect x="863.33" y="150.6" width="4.9" height="41.1" fill="#089981"/>
<rect x="870.96" y="143.1" width="1.3" height="79.2" fill="#f23645" fill-opacity="0.62"/>
<rect x="869.16" y="150.6" width="4.9" height="38.5" fill="#f23645"/>
<rect x="876.79" y="158.4" width="1.3" height="114.1" fill="#f23645" fill-opacity="0.62"/>
<rect x="874.99" y="189.4" width="4.9" height="80.1" fill="#f23645"/>
<rect x="882.62" y="229.2" width="1.3" height="49.2" fill="#089981" fill-opacity="0.62"/>
<rect x="880.82" y="233.5" width="4.9" height="36.0" fill="#089981"/>
</g>
<text x="953.4" y="63.6" font-size="12.5" letter-spacing="0.25" fill="#383838">1.0500</text>
<text x="953.4" y="115.2" font-size="12.5" letter-spacing="0.25" fill="#383838">1.0000</text>
<text x="953.4" y="166.8" font-size="12.5" letter-spacing="0.25" fill="#383838">0.9500</text>
<text x="953.4" y="218.4" font-size="12.5" letter-spacing="0.25" fill="#383838">0.9000</text>
<text x="953.4" y="270.0" font-size="12.5" letter-spacing="0.25" fill="#383838">0.8500</text>
<text x="953.4" y="321.6" font-size="12.5" letter-spacing="0.25" fill="#383838">0.8000</text>
<text x="953.4" y="373.1" font-size="12.5" letter-spacing="0.25" fill="#383838">0.7500</text>
<text x="953.4" y="424.7" font-size="12.5" letter-spacing="0.25" fill="#383838">0.7000</text>
<text x="953.4" y="476.3" font-size="12.5" letter-spacing="0.25" fill="#383838">0.6500</text>
<text x="953.4" y="527.9" font-size="12.5" letter-spacing="0.25" fill="#383838">0.6000</text>
<text x="953.4" y="579.5" font-size="12.5" letter-spacing="0.25" fill="#383838">0.5500</text>
<path d="M945.2 225.4 H1007.4 Q1009.4 225.4 1009.4 227.4 V253.4 Q1009.4 255.4 1007.4 255.4 H945.2 Z" fill="#089981"/>
<text x="953.4" y="237.8" font-size="12.5" letter-spacing="0.25" fill="#fff">0.8807</text>
<text x="953.4" y="251.0" font-size="12.5" letter-spacing="0.25" fill="#fff">07:42:40</text>
<path d="M945 616.2 H1000.4 Q1002.4 616.2 1002.4 618.2 V630.9 Q1002.4 632.9 1000.4 632.9 H945 Z" fill="#22ab94"/>
<text x="953.6" y="628.8" font-size="12.3" fill="#fff">60.06<tspan dx="1.5">M</tspan></text>
<text x="61.5" y="687" font-size="11.9" font-weight="bold" fill="#222" text-anchor="middle">Apr</text>
<text x="236.1" y="687" font-size="11.9" font-weight="bold" fill="#222" text-anchor="middle">May</text>
<text x="417.0" y="687" font-size="11.9" font-weight="bold" fill="#222" text-anchor="middle">Jun</text>
<text x="591.6" y="687" font-size="11.9" font-weight="bold" fill="#222" text-anchor="middle">Jul</text>
<text x="772.6" y="687" font-size="11.9" font-weight="bold" fill="#222" text-anchor="middle">Aug</text>
<text x="10.2" y="19.5" font-size="12.2" fill="#333" stroke="#333" class="n">Created with TradingView.com, Aug 20, 2025 16:17 UTC</text>
<text x="18.1" y="45.8" font-size="11.7" fill="#222" stroke="#222" class="n">Cardano / US Dollar · 1D · COINBASE</text>
<text x="224.8" y="45.8" font-size="12.4" fill="#222" stroke="#222" class="n">O</text>
<text x="234.2" y="45.8" font-size="12.4" fill="#22ab94" stroke="#22ab94" class="n">0.8463</text>
<text x="280.7" y="45.8" font-size="12.4" fill="#222" stroke="#222" class="n">H</text>
<text x="289.5" y="45.8" font-size="12.4" fill="#22ab94" stroke="#22ab94" class="n">0.8850</text>
<text x="334.9" y="45.8" font-size="12.4" fill="#222" stroke="#222" class="n">L</text>
<text x="341.2" y="45.8" font-size="12.4" fill="#22ab94" stroke="#22ab94" class="n">0.8372</text>
<text x="386.6" y="45.8" font-size="12.4" fill="#222" stroke="#222" class="n">C</text>
<text x="395.1" y="45.8" font-size="12.4" fill="#22ab94" stroke="#22ab94" class="n">0.8807</text>
<text x="440.0" y="45.8" font-size="12.4" fill="#22ab94" stroke="#22ab94" class="n">+0.0343</text>
<text x="490.0" y="45.8" font-size="12.4" fill="#22ab94" stroke="#22ab94" class="n">(+4.05%)</text>
<text x="18.1" y="62.1" font-size="11.6" fill="#222" stroke="#222" class="n">Vol · ADA</text>
<text x="75.1" y="62.1" font-size="12.4" fill="#22ab94" stroke="#22ab94" class="n">60.06<tspan dx="1.8">M</tspan></text>
<clipPath id="f3"><circle cx="894.5" cy="655.7" r="8.0"/></clipPath><circle cx="894.5" cy="655.7" r="9.9" fill="#fff" stroke="#f23645" stroke-width="1.5"/><g clip-path="url(#f3)"><rect x="886.5" y="647.70" width="16" height="3.50" fill="#ef3e42"/><rect x="886.5" y="651.20" width="16" height="3.00" fill="#fff"/><rect x="886.5" y="654.20" width="16" height="3.20" fill="#ef3e42"/><rect x="886.5" y="657.40" width="16" height="2.80" fill="#fff"/><rect x="886.5" y="660.20" width="16" height="3.20" fill="#ef3e42"/><rect x="886.5" y="663.40" width="16" height="0.30" fill="#fff"/><rect x="886.5" y="647.70" width="9.8" height="9.9" fill="#3181e8"/><rect x="889.15" y="650.15" width="0.7" height="0.7" fill="#cfe2ff"/><rect x="889.15" y="652.75" width="0.7" height="0.7" fill="#cfe2ff"/><rect x="889.15" y="655.15" width="0.7" height="0.7" fill="#cfe2ff"/><rect x="891.55" y="650.15" width="0.7" height="0.7" fill="#cfe2ff"/><rect x="891.55" y="652.75" width="0.7" height="0.7" fill="#cfe2ff"/><rect x="891.55" y="655.15" width="0.7" height="0.7" fill="#cfe2ff"/><rect x="893.95" y="650.15" width="0.7" height="0.7" fill="#cfe2ff"/><rect x="893.95" y="652.75" width="0.7" height="0.7" fill="#cfe2ff"/><rect x="893.95" y="655.15" width="0.7" height="0.7" fill="#cfe2ff"/></g>
<clipPath id="f2"><circle cx="888.6" cy="655.7" r="8.0"/></clipPath><circle cx="888.6" cy="655.7" r="9.9" fill="#fff" stroke="#f23645" stroke-width="1.5"/><g clip-path="url(#f2)"><rect x="880.6" y="647.70" width="16" height="3.50" fill="#ef3e42"/><rect x="880.6" y="651.20" width="16" height="3.00" fill="#fff"/><rect x="880.6" y="654.20" width="16" height="3.20" fill="#ef3e42"/><rect x="880.6" y="657.40" width="16" height="2.80" fill="#fff"/><rect x="880.6" y="660.20" width="16" height="3.20" fill="#ef3e42"/><rect x="880.6" y="663.40" width="16" height="0.30" fill="#fff"/><rect x="880.6" y="647.70" width="9.8" height="9.9" fill="#3181e8"/><rect x="883.25" y="650.15" width="0.7" height="0.7" fill="#cfe2ff"/><rect x="883.25" y="652.75" width="0.7" height="0.7" fill="#cfe2ff"/><rect x="883.25" y="655.15" width="0.7" height="0.7" fill="#cfe2ff"/><rect x="885.65" y="650.15" width="0.7" height="0.7" fill="#cfe2ff"/><rect x="885.65" y="652.75" width="0.7" height="0.7" fill="#cfe2ff"/><rect x="885.65" y="655.15" width="0.7" height="0.7" fill="#cfe2ff"/><rect x="888.05" y="650.15" width="0.7" height="0.7" fill="#cfe2ff"/><rect x="888.05" y="652.75" width="0.7" height="0.7" fill="#cfe2ff"/><rect x="888.05" y="655.15" width="0.7" height="0.7" fill="#cfe2ff"/></g>
<clipPath id="f1"><circle cx="882.6" cy="655.7" r="8.0"/></clipPath><circle cx="882.6" cy="655.7" r="9.9" fill="#fff" stroke="#f23645" stroke-width="1.5"/><g clip-path="url(#f1)"><rect x="874.6" y="647.70" width="16" height="3.50" fill="#ef3e42"/><rect x="874.6" y="651.20" width="16" height="3.00" fill="#fff"/><rect x="874.6" y="654.20" width="16" height="3.20" fill="#ef3e42"/><rect x="874.6" y="657.40" width="16" height="2.80" fill="#fff"/><rect x="874.6" y="660.20" width="16" height="3.20" fill="#ef3e42"/><rect x="874.6" y="663.40" width="16" height="0.30" fill="#fff"/><rect x="874.6" y="647.70" width="9.8" height="9.9" fill="#3181e8"/><rect x="877.25" y="650.15" width="0.7" height="0.7" fill="#cfe2ff"/><rect x="877.25" y="652.75" width="0.7" height="0.7" fill="#cfe2ff"/><rect x="877.25" y="655.15" width="0.7" height="0.7" fill="#cfe2ff"/><rect x="879.65" y="650.15" width="0.7" height="0.7" fill="#cfe2ff"/><rect x="879.65" y="652.75" width="0.7" height="0.7" fill="#cfe2ff"/><rect x="879.65" y="655.15" width="0.7" height="0.7" fill="#cfe2ff"/><rect x="882.05" y="650.15" width="0.7" height="0.7" fill="#cfe2ff"/><rect x="882.05" y="652.75" width="0.7" height="0.7" fill="#cfe2ff"/><rect x="882.05" y="655.15" width="0.7" height="0.7" fill="#cfe2ff"/></g>
<clipPath id="f4"><circle cx="918.2" cy="655.7" r="8.0"/></clipPath><circle cx="918.2" cy="655.7" r="9.9" fill="#fff" stroke="#f23645" stroke-width="1.5"/><g clip-path="url(#f4)"><rect x="910.2" y="647.70" width="16" height="3.50" fill="#ef3e42"/><rect x="910.2" y="651.20" width="16" height="3.00" fill="#fff"/><rect x="910.2" y="654.20" width="16" height="3.20" fill="#ef3e42"/><rect x="910.2" y="657.40" width="16" height="2.80" fill="#fff"/><rect x="910.2" y="660.20" width="16" height="3.20" fill="#ef3e42"/><rect x="910.2" y="663.40" width="16" height="0.30" fill="#fff"/><rect x="910.2" y="647.70" width="9.8" height="9.9" fill="#3181e8"/><rect x="912.85" y="650.15" width="0.7" height="0.7" fill="#cfe2ff"/><rect x="912.85" y="652.75" width="0.7" height="0.7" fill="#cfe2ff"/><rect x="912.85" y="655.15" width="0.7" height="0.7" fill="#cfe2ff"/><rect x="915.25" y="650.15" width="0.7" height="0.7" fill="#cfe2ff"/><rect x="915.25" y="652.75" width="0.7" height="0.7" fill="#cfe2ff"/><rect x="915.25" y="655.15" width="0.7" height="0.7" fill="#cfe2ff"/><rect x="917.65" y="650.15" width="0.7" height="0.7" fill="#cfe2ff"/><rect x="917.65" y="652.75" width="0.7" height="0.7" fill="#cfe2ff"/><rect x="917.65" y="655.15" width="0.7" height="0.7" fill="#cfe2ff"/></g>
<circle cx="883.7" cy="631.9" r="9.1" fill="#fff" stroke="#9c27b0" stroke-width="1.4"/>
<path d="M886.2 626.6 L879.6 632.7 H883.3 L880.2 637.1 L887.0 631.0 H883.3 Z" fill="#9c27b0" stroke="#9c27b0" stroke-width="0.9" stroke-linejoin="round"/>
<defs><radialGradient id="sg" cx="0.5" cy="0.5" r="0.5"><stop offset="0" stop-color="#4f62f2"/><stop offset="0.45" stop-color="#6650e6"/><stop offset="1" stop-color="#9a3ad0"/></radialGradient></defs>
<path d="M872.7 631.0 Q873.6 634.4 877.3000000000001 635.3 Q873.6 636.1999999999999 872.7 639.5999999999999 Q871.8000000000001 636.1999999999999 868.1 635.3 Q871.8000000000001 634.4 872.7 631.0 Z" fill="#fff" stroke="#fff" stroke-width="2.4" stroke-linejoin="round"/>
<path d="M872.7 631.0 Q873.6 634.4 877.3000000000001 635.3 Q873.6 636.1999999999999 872.7 639.5999999999999 Q871.8000000000001 636.1999999999999 868.1 635.3 Q871.8000000000001 634.4 872.7 631.0 Z" fill="url(#sg)"/>
<path d="M11.5 717 H23.1 V731.5 H17.55 V722.7 H11.5 Z" fill="#111"/>
<circle cx="28.1" cy="720" r="2.8" fill="#111"/>
<path d="M33.9 717.1 H40.4 L35.1 731.3 H28.5 Z" fill="#111"/>
<text x="48.1" y="731.1" font-size="19.8" letter-spacing="0.62" fill="#111" stroke="#111" stroke-width="0.95" stroke-linejoin="round">TradingView</text>
</svg></body></html>
